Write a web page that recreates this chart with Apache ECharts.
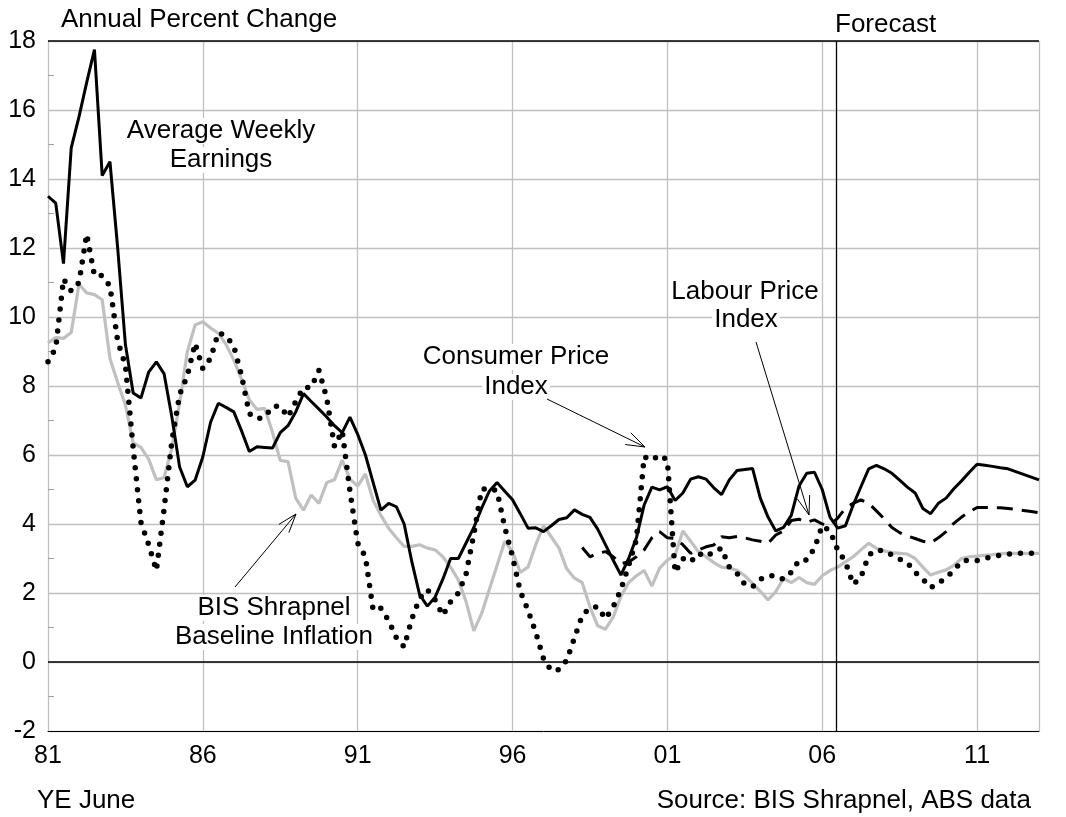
<!DOCTYPE html>
<html><head><meta charset="utf-8">
<script src="https://cdn.jsdelivr.net/npm/echarts@6/dist/echarts.min.js"></script>
<style>html,body{margin:0;padding:0;background:#fff}#c{width:1066px;height:817px}</style>
</head><body><div id="c"></div>
<script>
// x values are years since June 1981, one point per quarter
const xTickLabels = ['81', '86', '91', '96', '01', '06', '11'];
const forecastStart = 25.45;

const awe = [13.5, 13.3, 11.55, 14.9, 15.8, 16.8, 17.75, 14.1, 14.5, 12.0,
 9.2, 7.8, 7.65, 8.4, 8.7, 8.35, 7.1, 5.65, 5.08, 5.27,
 5.95, 6.95, 7.5, 7.38, 7.25, 6.7, 6.1, 6.24, 6.22, 6.2,
 6.65, 6.85, 7.25, 7.78, 7.55, 7.33, 7.1, 6.85, 6.65, 7.1,
 6.6, 6.0, 5.2, 4.4, 4.6, 4.5, 4.0, 2.9, 1.95, 1.62,
 1.88, 2.4, 3.0, 3.0, 3.45, 3.9, 4.45, 4.95, 5.2, 4.95,
 4.7, 4.3, 3.88, 3.89, 3.78, 3.95, 4.13, 4.18, 4.41, 4.28,
 4.19, 3.85, 3.4, 2.95, 2.52, 3.0, 3.6, 4.55, 5.07, 4.99,
 5.08, 4.68, 4.9, 5.3, 5.37, 5.3, 5.05, 4.85, 5.28, 5.55,
 5.58, 5.61, 4.75, 4.2, 3.8, 3.9, 4.25, 5.1, 5.47, 5.5,
 5.0, 4.2, 3.88, 3.95, 4.55, 5.08, 5.6, 5.7, 5.6, 5.47,
 5.27, 5.07, 4.9, 4.45, 4.3, 4.6, 4.75, 5.02, 5.25, 5.5,
 5.73, 5.7, 5.67, 5.63, 5.6, 5.52, 5.44, 5.36, 5.28];

const cpi = [8.7, 9.1, 11.1, 10.75, 11.0, 12.4, 11.2, 11.2, 10.9, 9.3,
 8.6, 6.2, 4.05, 3.4, 2.65, 4.45, 6.4, 7.75, 8.3, 9.24,
 8.5, 8.8, 9.55, 9.45, 9.15, 8.3, 7.2, 7.05, 7.1, 7.4,
 7.42, 7.1, 7.55, 7.96, 7.96, 8.45, 7.65, 6.25, 6.7, 4.95,
 3.45, 3.05, 1.5, 1.56, 1.2, 0.7, 0.44, 1.25, 1.85, 2.1,
 1.8, 1.35, 1.75, 2.0, 2.55, 3.7, 5.0, 5.05, 4.95, 3.9,
 3.05, 2.05, 1.5, 0.85, 0.1, -0.25, -0.22, 0.05, 0.7, 1.35,
 1.57, 1.6, 1.25, 1.6, 2.1, 2.8, 3.55, 5.95, 5.85, 6.0,
 5.85, 2.6, 3.0, 2.9, 3.15, 3.05, 3.2, 3.3, 2.75, 2.57,
 2.25, 2.18, 2.4, 2.5, 2.5, 2.4, 2.6, 2.95, 2.96, 3.3,
 3.95, 3.8, 3.25, 2.9, 2.25, 2.45, 3.1, 3.25, 3.22, 3.1,
 2.98, 2.88, 2.6, 2.4, 2.15, 2.28, 2.45, 2.65, 2.92, 2.96,
 2.94, 3.0, 3.05, 3.1, 3.13, 3.15, 3.15, 3.15, 3.15];

const bis = [9.25, 9.4, 9.38, 9.55, 10.95, 10.7, 10.65, 10.5, 8.8, 8.1,
 7.45, 6.35, 6.22, 5.88, 5.28, 5.35, 6.2, 7.5, 9.0, 9.77,
 9.86, 9.68, 9.53, 9.2, 8.75, 8.2, 7.6, 7.32, 7.35, 6.65,
 5.84, 5.81, 4.75, 4.4, 4.84, 4.6, 5.2, 5.28, 5.85, 5.3,
 5.1, 5.45, 4.68, 4.25, 3.88, 3.6, 3.35, 3.35, 3.4, 3.3,
 3.25, 3.05, 2.75, 2.38, 1.75, 0.9, 1.4, 2.1, 2.8, 3.5,
 3.2, 2.6, 2.75, 3.4, 3.95, 3.63, 3.3, 2.7, 2.43, 2.3,
 1.6, 1.05, 0.95, 1.3, 1.9, 2.3, 2.5, 2.65, 2.2, 2.72,
 2.95, 3.1, 3.8, 3.5, 3.2, 3.05, 2.88, 2.75, 2.72, 2.66,
 2.5, 2.28, 2.05, 1.8, 2.04, 2.42, 2.3, 2.45, 2.3, 2.25,
 2.5, 2.65, 2.75, 2.9, 3.05, 3.25, 3.44, 3.3, 3.22, 3.17,
 3.15, 3.13, 3.0, 2.75, 2.52, 2.6, 2.67, 2.8, 3.0, 3.05,
 3.07, 3.09, 3.11, 3.14, 3.15, 3.15, 3.15, 3.15, 3.15];

const lpiStartQuarter = 69;
const lpi = [3.32, 3.05, 3.15, 3.2, 3.05, 2.85, 2.9, 3.05, 3.25, 3.6,
 3.78, 3.6, 3.58, 3.4, 3.15, 3.25, 3.34, 3.39, 3.63, 3.6,
 3.64, 3.6, 3.54, 3.5, 3.44, 3.68, 3.8, 4.1, 4.14, 4.05,
 4.12, 4.0, 3.97, 4.17, 4.46, 4.6, 4.7, 4.6, 4.38, 4.15,
 3.9, 3.75, 3.65, 3.58, 3.5, 3.45, 3.6, 3.78, 4.02, 4.2,
 4.35, 4.48, 4.48, 4.48, 4.47, 4.45, 4.42, 4.39, 4.36, 4.33];

const toPts = (arr, start) => arr.map((v, i) => [(start + i) / 4, v]);
const FONT = 'Liberation Sans, Arial, sans-serif';

function arrow(x1, y1, x2, y2) {
  const a = Math.atan2(y1 - y2, x1 - x2), L = 20, h = 0.33;
  return {
    type: 'group', z: 1, children: [
      { type: 'line', z: 1, shape: { x1, y1, x2, y2 }, style: { stroke: '#000', lineWidth: 1 } },
      { type: 'polyline', z: 1, shape: { points: [
        [x2 + L * Math.cos(a + h), y2 + L * Math.sin(a + h)], [x2, y2],
        [x2 + L * Math.cos(a - h), y2 + L * Math.sin(a - h)]] },
        style: { stroke: '#000', lineWidth: 1, fill: null } }
    ]
  };
}
function txt(x, y, text, align, boxed) {
  const style = { text, font: '26px ' + FONT, fill: '#000',
    align: align || 'center', verticalAlign: 'middle' };
  if (boxed) { style.backgroundColor = '#fff'; style.padding = [0, 2]; }
  return { type: 'text', x, y, z: 1, style };
}

const chart = echarts.init(document.getElementById('c'), null, { renderer: 'canvas' });
chart.setOption({
  animation: false,
  backgroundColor: '#fff',
  grid: { left: 48, right: 27, top: 41, bottom: 86, containLabel: false, outerBoundsMode: 'none' },
  xAxis: {
    type: 'value', min: 0, max: 32, interval: 5,
    axisLine: { show: true, onZero: false, lineStyle: { color: '#000', width: 1 } },
    axisTick: { show: false },
    axisLabel: { fontFamily: FONT, fontSize: 25, color: '#000', margin: 13, showMaxLabel: false,
      formatter: v => (v % 5 === 0 ? xTickLabels[v / 5] : '') },
    splitLine: { show: true, lineStyle: { color: '#c0c0c0', width: 1.3 } }
  },
  yAxis: {
    type: 'value', min: -2, max: 18, interval: 2,
    axisLine: { show: false },
    axisTick: { show: false, inside: true },
    minorTick: { show: true, splitNumber: 2, length: 6, lineStyle: { color: '#a0a0a0', width: 1 } },
    axisLabel: { fontFamily: FONT, fontSize: 25, color: '#000', margin: 12 },
    splitLine: { show: true, lineStyle: { color: '#c0c0c0', width: 1.3 } }
  },
  series: [
    { name: 'BIS Shrapnel Baseline Inflation', type: 'line', data: toPts(bis, 0), symbol: 'none',
      lineStyle: { color: '#c0c0c0', width: 3.2 }, z: 2 },
    { name: 'Average Weekly Earnings', type: 'line', data: toPts(awe, 0), symbol: 'none',
      lineStyle: { color: '#000', width: 3 }, z: 3,
      markLine: { silent: true, symbol: 'none', label: { show: false },
        data: [
          { yAxis: 18, lineStyle: { color: '#000', width: 1.5, type: 'solid' } },
          { yAxis: 0, lineStyle: { color: '#000', width: 1.5, type: 'solid' } },
          { xAxis: forecastStart, lineStyle: { color: '#000', width: 1.3, type: 'solid' } }
        ] } },
    { name: 'Labour Price Index', type: 'line', data: toPts(lpi, lpiStartQuarter), symbol: 'none',
      lineStyle: { color: '#000', width: 3, type: [16, 9] }, z: 4 },
    { name: 'Consumer Price Index', type: 'line', data: toPts(cpi, 0), symbol: 'none',
      lineStyle: { color: '#000', width: 5.5, type: [0, 11], cap: 'round', join: 'round' }, z: 5 }
  ],
  graphic: [
    txt(61, 20, 'Annual Percent Change', 'left'),
    txt(835, 25, 'Forecast', 'left'),
    txt(37, 801, 'YE June', 'left'),
    txt(1031, 801, 'Source: BIS Shrapnel, ABS data', 'right'),
    txt(221, 131, 'Average Weekly', 'center', true),
    txt(221, 160, 'Earnings', 'center', true),
    txt(274, 608, 'BIS Shrapnel', 'center', true),
    txt(274, 637, 'Baseline Inflation', 'center', true),
    txt(516, 357, 'Consumer Price', 'center', true),
    txt(516, 387, 'Index', 'center', true),
    txt(745, 292, 'Labour Price', 'center', true),
    txt(746, 320, 'Index', 'center', true),
    arrow(235, 587, 296, 514),
    arrow(547, 399, 645, 447),
    arrow(756, 342, 809, 515)
  ]
});
</script></body></html>
